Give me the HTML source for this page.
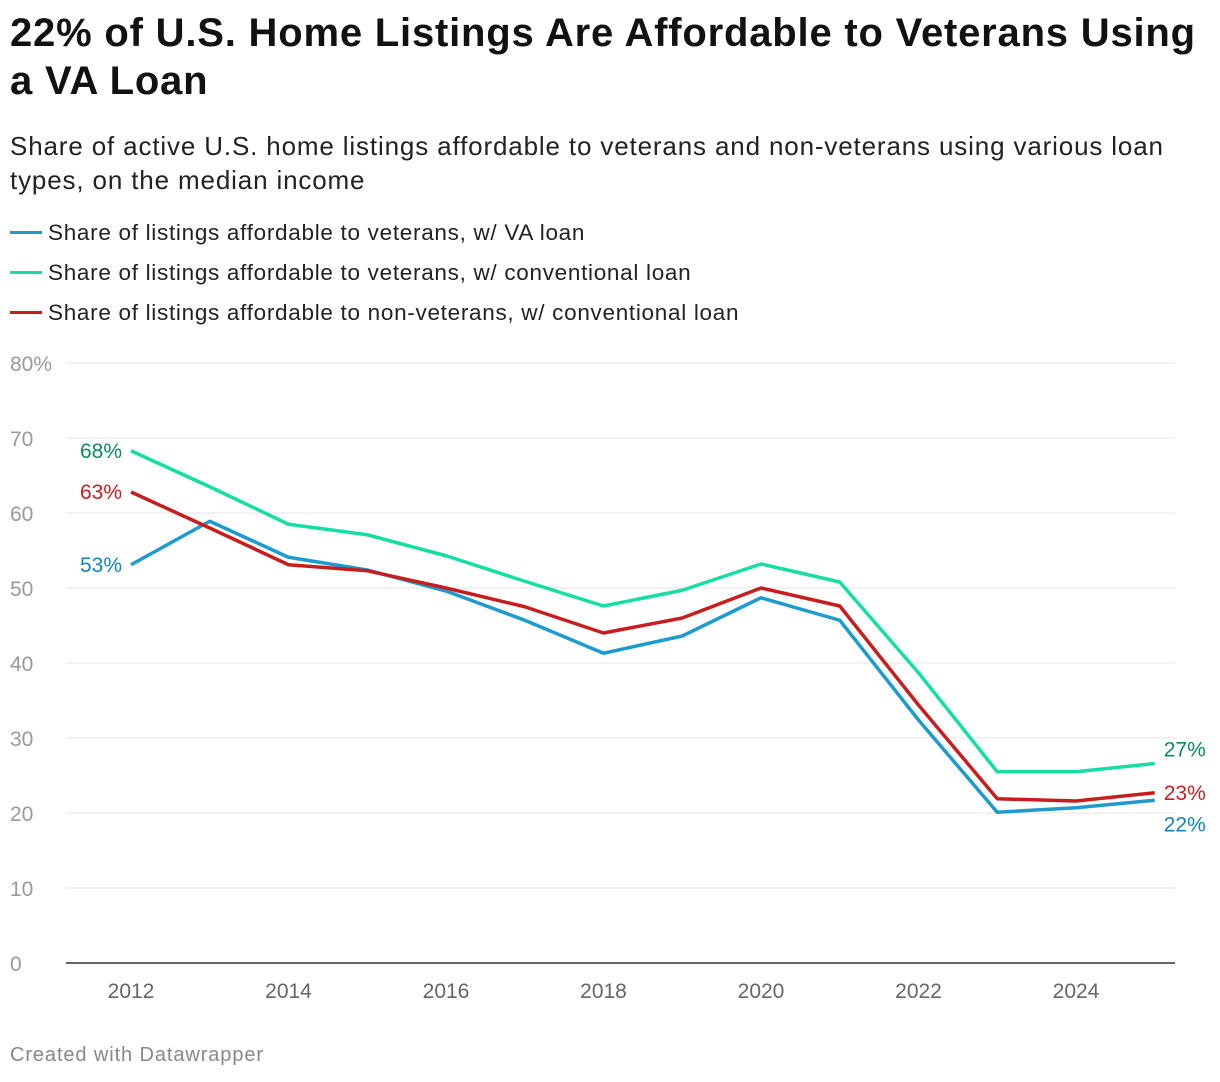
<!DOCTYPE html>
<html><head><meta charset="utf-8"><style>
body{margin:0;background:#fff;font-family:"Liberation Sans",Arial,sans-serif;width:1220px;height:1082px;overflow:hidden;position:relative}
h1{position:absolute;left:10px;top:9px;margin:0;font-size:40px;line-height:48px;font-weight:bold;color:#111;width:1205px;letter-spacing:0.8px}
.sub{position:absolute;left:10px;top:129px;font-size:26px;line-height:34px;color:#222;width:1205px;letter-spacing:0.85px}
.leg{position:absolute;left:10px;font-size:22.5px;color:#222;letter-spacing:0.7px}
.leg span{display:inline-block;width:32px;height:3px;vertical-align:middle;margin-right:6px;position:relative;top:-2px}
.foot{position:absolute;left:10px;top:1044px;font-size:20px;color:#888;letter-spacing:0.9px}
</style></head><body>
<h1>22% of U.S. Home Listings Are Affordable to Veterans Using a VA Loan</h1>
<div class="sub">Share of active U.S. home listings affordable to veterans and non-veterans using various loan types, on the median income</div>
<div class="leg" style="top:220px"><span style="background:#1d9bcf"></span>Share of listings affordable to veterans, w/ VA loan</div>
<div class="leg" style="top:260px"><span style="background:#15dea5"></span>Share of listings affordable to veterans, w/ conventional loan</div>
<div class="leg" style="top:300px"><span style="background:#c71e1d"></span>Share of listings affordable to non-veterans, w/ conventional loan</div>
<svg id="chart" width="1220" height="1082" style="position:absolute;left:0;top:0"></svg>
<div class="foot">Created with Datawrapper</div>
<script>
const years=[2012,2013,2014,2015,2016,2017,2018,2019,2020,2021,2022,2023,2024,2025];
const vaLoan=[53.1,58.9,54.1,52.4,49.6,45.7,41.3,43.6,48.7,45.7,32.4,20.1,20.7,21.7];
const vetConv=[68.3,63.5,58.5,57.1,54.3,50.9,47.6,49.7,53.2,50.8,38.7,25.5,25.5,26.6];
const nonVetConv=[62.8,58,53.1,52.3,50,47.5,44,46,50,47.6,34.4,21.9,21.6,22.7];
const yTicks=[0,10,20,30,40,50,60,70,80];
const xTicks=[2012,2014,2016,2018,2020,2022,2024];
const NS="http://www.w3.org/2000/svg";
const svg=document.getElementById('chart');
const x=v=>131+(v-2012)*78.75;
const y=v=>963-v*7.5;
function el(t,a){const e=document.createElementNS(NS,t);for(const k in a)e.setAttribute(k,a[k]);svg.appendChild(e);return e;}
yTicks.forEach(t=>{
  if(t>0){const l=el('line',{x1:66,x2:1175,y1:y(t),y2:y(t),stroke:'#e3e3e3','stroke-width':1});
  
  }
  const tx=el('text',{x:10,y:y(t)+8,'font-size':21,fill:'#999'});
  tx.textContent=t===80?'80%':String(t);
  
  
});
const ax=el('line',{x1:66,x2:1175,y1:y(0),y2:y(0),stroke:'#333','stroke-width':1.5});


xTicks.forEach(t=>{
  const tx=el('text',{x:x(t),y:998,'font-size':21,fill:'#666','text-anchor':'middle'});
  tx.textContent=t;
  
  
});
const series=[
 {d:vetConv,c:'#15dea5',lc:'#0b8a5c',n:'line-vet-conventional',dy0:6,dy1:-14},
 {d:nonVetConv,c:'#c71e1d',lc:'#c71e1d',n:'line-nonvet-conventional',dy0:6,dy1:0},
 {d:vaLoan,c:'#1d9bcf',lc:'#1583b8',n:'line-va-loan',dy0:6,dy1:24}
];
series.slice().reverse().forEach(s=>{
  const p=el('polyline',{points:s.d.map((v,i)=>x(years[i])+','+y(v)).join(' '),fill:'none',stroke:s.c,'stroke-width':3.5,'stroke-linejoin':'round'});
  
  
});
series.forEach(s=>{
  const a=el('text',{x:x(years[0])-9,y:y(s.d[0])+s.dy0+1,'font-size':21,fill:s.lc,'text-anchor':'end'});
  a.textContent=Math.round(s.d[0])+'%';
  
  
  const n=s.d.length-1;
  const b=el('text',{x:x(years[n])+9,y:y(s.d[n])+7+s.dy1,'font-size':21,fill:s.lc});
  b.textContent=Math.round(s.d[n])+'%';
  
  
});
</script>
</body></html>
